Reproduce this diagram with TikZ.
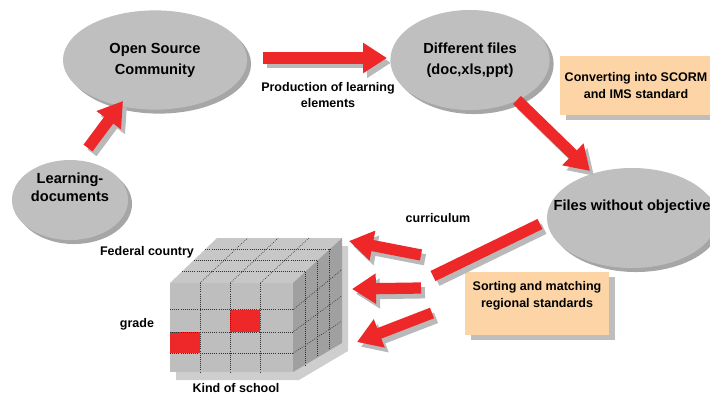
\documentclass[tikz,border=0pt]{standalone}
\usepackage{fontspec}
\setmainfont{Liberation Sans}
\usepackage{xcolor}
\usetikzlibrary{positioning}
\usetikzlibrary{shapes.geometric}
\usetikzlibrary{shadows}
\usetikzlibrary{arrows.meta}
\usetikzlibrary{calc}

\definecolor{bubblegray}{RGB}{191,191,191}
\definecolor{bubbleshade}{RGB}{166,166,166}
\definecolor{arrowred}{RGB}{238,40,40}
\definecolor{arrowshade}{RGB}{185,185,185}
\definecolor{boxpeach}{RGB}{252,212,166}
\definecolor{boxshade}{RGB}{190,190,190}
\definecolor{cubefront}{RGB}{190,190,190}
\definecolor{cubetop}{RGB}{199,199,199}
\definecolor{cubeside}{RGB}{160,160,160}
\definecolor{cubeshade}{RGB}{206,206,206}

\newcommand{\redarrow}[2]{%
\draw[arrowshadow] (#1)--(#2);
\draw[arrowbody] (#1)--(#2);}

\begin{document}
\begin{tikzpicture}[x=0.025cm, y=-0.025cm,
  bubbletext/.style={font=\bfseries\fontsize{10.4}{15}\selectfont, align=center},
  bubble/.style={ellipse, bubbletext, inner sep=0pt, fill=bubblegray,
    drop shadow={shadow xshift=0.1cm, shadow yshift=-0.1cm, fill=bubbleshade, opacity=1}},
  peachtext/.style={font=\bfseries\fontsize{8.9}{12}\selectfont, align=center},
  peachbox/.style={peachtext, fill=boxpeach,
    drop shadow={shadow xshift=0.15cm, shadow yshift=-0.13cm, fill=boxshade, opacity=1}},
  caption/.style={font=\bfseries\fontsize{8.9}{11}\selectfont, align=center},
  arrowbody/.style={draw=arrowred, line width=8pt, -{Triangle[length=17pt, width=20.5pt]}},
  arrowshadow/.style={arrowbody, draw=arrowshade, transform canvas={shift={(0.1cm,-0.12cm)}}},
  cubegrid/.style={densely dotted, line width=0.5pt, black!80}]

\clip (0,0) rectangle (710,397);

% bubbles and boxes
\node[bubble, minimum width=4.6cm, minimum height=2.48cm] (osc) at (155,60) {Open Source\\Community};
\node[bubble, minimum width=3.98cm, minimum height=2.5cm] (dif) at (470,60) {Different files\\(doc,xls,ppt)};
\node[bubble, minimum width=2.9cm, minimum height=2cm] (lrn) at (70,200) {};
\node[bubbletext, font=\bfseries\fontsize{10.4}{13}\selectfont] (lrntext) at ([yshift=0.325cm]lrn.center) {Learning-\\documents};
\node[bubble, minimum width=4.25cm, minimum height=2.5cm] (fwo) at (632,218) {};
\node[bubbletext] (fwotext) at ([yshift=0.28cm]fwo.center) {Files without objective};

\node[peachbox, minimum width=3.7cm, minimum height=1.475cm] (scorm) at (636,85.5) {Converting into SCORM\\and IMS standard};
\node[peachbox, minimum width=3.6cm, minimum height=1.575cm] (regio) at (537,303.5) {};
\node[peachtext] (regiotext) at ([yshift=0.2cm]regio.center) {Sorting and matching\\regional standards};

% arrows
\coordinate (a1s) at (88,148);  \coordinate (a1e) at (123,101);
\coordinate (a2s) at (263,58);  \coordinate (a2e) at (387,58);
\coordinate (a3s) at (517,100); \coordinate (a3e) at (590,171);
\coordinate (bars) at (540,224); \coordinate (bare) at (433,276);
\coordinate (a4s) at (421,255); \coordinate (a4e) at (349,241);
\coordinate (a5s) at (421,288); \coordinate (a5e) at (352,289);
\coordinate (a6s) at (432,313); \coordinate (a6e) at (357,342);

\redarrow{a1s}{a1e}
\redarrow{a2s}{a2e}
\redarrow{a3s}{a3e}
\draw[arrowshadow, -] (bars)--(bare);
\draw[arrowbody, -] (bars)--(bare);
\redarrow{a4s}{a4e}
\redarrow{a5s}{a5e}
\redarrow{a6s}{a6e}

% cube
\coordinate (FTL) at (170,283); \coordinate (FTR) at (293,283);
\coordinate (FBR) at (293,372); \coordinate (FBL) at (170,372);
\coordinate (BTL) at (217,238); \coordinate (BTR) at (342,238);
\coordinate (BBR) at (342,343);

\fill[cubeshade, transform canvas={shift={(0.15cm,-0.2cm)}}] (FTL)--(BTL)--(BTR)--(BBR)--(FBR)--(FBL)--cycle;
\fill[cubefront] (FTL)--(FTR)--(FBR)--(FBL)--cycle;
\fill[cubetop] (FTL)--(BTL)--(BTR)--(FTR)--cycle;
\fill[cubeside] (FTR)--(BTR)--(BBR)--(FBR)--cycle;

\fill[arrowred] (170,332) rectangle (200,353);
\fill[arrowred] (230,310) rectangle (260,332);

\foreach \t in {0.245,0.49,0.735}{
  \draw[cubegrid] ($(FTL)!\t!(FTR)$)--($(FBL)!\t!(FBR)$);
  \draw[cubegrid] ($(FTL)!\t!(FTR)$)--($(BTL)!\t!(BTR)$);
}
\foreach \t in {0.3,0.55,0.79}{
  \draw[cubegrid] ($(FTL)!\t!(FBL)$)--($(FTR)!\t!(FBR)$);
  \draw[cubegrid] ($(FTR)!\t!(FBR)$)--($(BTR)!\t!(BBR)$);
}
\foreach \t in {0.25,0.5,0.75}{
  \draw[cubegrid] ($(FTL)!\t!(BTL)$)--($(FTR)!\t!(BTR)$);
  \draw[cubegrid] ($(FTR)!\t!(BTR)$)--($(FBR)!\t!(BBR)$);
}

% labels
\node[caption] (prod) at (328,95) {Production of learning\\elements};
\node[caption] (curr) at (438,218) {curriculum};
\node[caption] (fed) at (147,252) {Federal country};
\node[caption] (grd) at (137,324) {grade};
\node[caption] (kind) at (236,388) {Kind of school};

\end{tikzpicture}
\end{document}
